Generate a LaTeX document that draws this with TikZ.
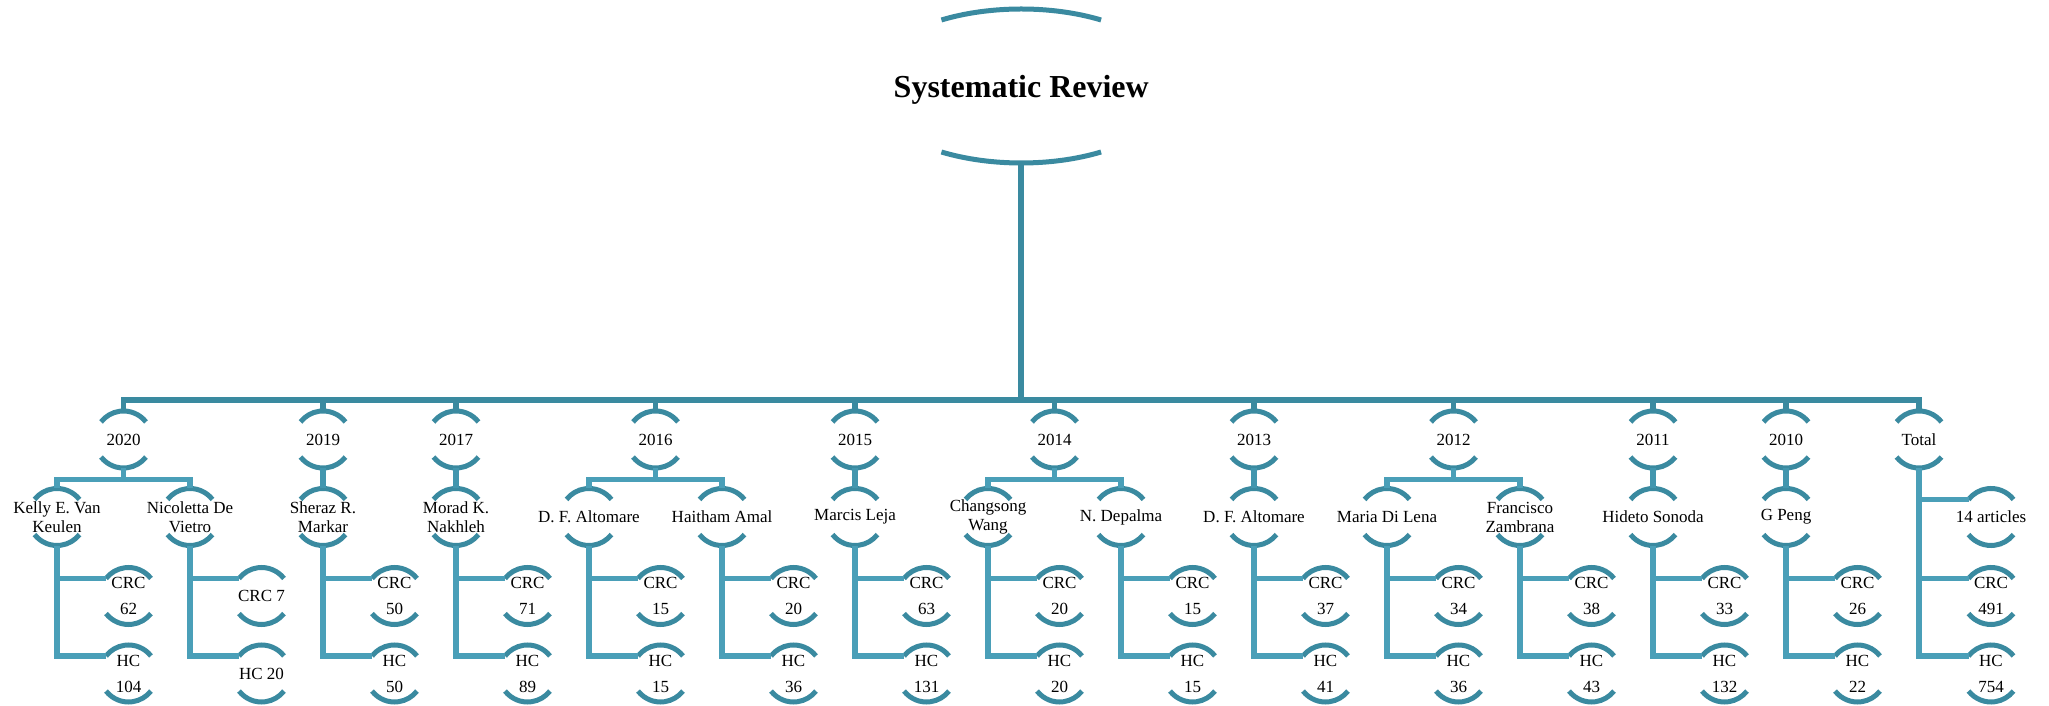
\documentclass[tikz,border=0pt]{standalone}
\usepackage{fontspec}
\setmainfont{Liberation Serif}
\usetikzlibrary{positioning}
\definecolor{darkteal}{RGB}{58,138,160}
\definecolor{midteal}{RGB}{66,150,174}
\definecolor{lightteal}{RGB}{74,159,184}

\tikzset{
  arcline/.style={draw=darkteal, line width=2.5pt},
  mainline/.style={draw=darkteal, line width=2.8pt},
  yearline/.style={draw=midteal, line width=2.6pt},
  subline/.style={draw=lightteal, line width=2.6pt},
  arcnode/.style={inner sep=0pt, minimum width=22pt, minimum height=28.5pt, align=center,
    font=\fontsize{8.5}{9.5}\selectfont},
  leaf/.style={arcnode, font=\fontsize{8.5}{13}\selectfont},
}

\begin{document}
\begin{tikzpicture}[x=0.5pt, y=0.5pt]
  \useasboundingbox (0,0) rectangle (2049,706);

  % ===== root =====
  \node[inner sep=0pt, minimum width=80pt, minimum height=77pt, text depth=0pt,
    font=\fontsize{16}{19}\selectfont\bfseries] (root) at (1021.25,620) {Systematic Review};
  \draw[arcline] ([shift={(59:155 and 77)}]root.center) arc[start angle=59, end angle=121, x radius=155, y radius=77];
  \draw[arcline] ([shift={(239:155 and 77)}]root.center) arc[start angle=239, end angle=301, x radius=155, y radius=77];

  % ===== years =====
  \node[arcnode] (y20) at (123.5,266.5) {2020};
  \node[arcnode] (y19) at (323,266.5) {2019};
  \node[arcnode] (y17) at (456,266.5) {2017};
  \node[arcnode] (y16) at (655.5,266.5) {2016};
  \node[arcnode] (y15) at (855,266.5) {2015};
  \node[arcnode] (y14) at (1054.5,266.5) {2014};
  \node[arcnode] (y13) at (1254,266.5) {2013};
  \node[arcnode] (y12) at (1453.5,266.5) {2012};
  \node[arcnode] (y11) at (1653,266.5) {2011};
  \node[arcnode] (y10) at (1786,266.5) {2010};
  \node[arcnode] (ytot) at (1919,266.5) {Total};

  % ===== authors =====
  \node[arcnode] (keulen) at (57,189) {Kelly E. Van\\Keulen};
  \node[arcnode] (vietro) at (190,189) {Nicoletta De\\Vietro};
  \node[arcnode] (markar) at (323,189) {Sheraz R.\\Markar};
  \node[arcnode] (nakhleh) at (456,189) {Morad K.\\Nakhleh};
  \node[arcnode] (altomare) at (589,189) {D. F. Altomare};
  \node[arcnode] (amal) at (722,189) {Haitham Amal};
  \node[arcnode] (leja) at (855,189) {Marcis Leja};
  \node[arcnode] (wang) at (988,189) {Changsong\\Wang};
  \node[arcnode] (depalma) at (1121,189) {N. Depalma};
  \node[arcnode] (altomareb) at (1254,189) {D. F. Altomare};
  \node[arcnode] (dilena) at (1387,189) {Maria Di Lena};
  \node[arcnode] (zambrana) at (1520,189) {Francisco\\Zambrana};
  \node[arcnode] (sonoda) at (1653,189) {Hideto Sonoda};
  \node[arcnode] (peng) at (1786,189) {G Peng};

  % totals
  \node[leaf] (articles) at (1991,189) {14 articles};
  \node[leaf] (totcrc) at (1991,110) {CRC\\491};
  \node[leaf] (tothc) at (1991,32.5) {HC\\754};

  % arcs above and below
  \foreach \n in {y20,y19,y17,y16,y15,y14,y13,y12,y11,y10,ytot,articles,totcrc,tothc}{
    \draw[arcline] ([shift={(38:28.5)}]\n.center) arc[start angle=38, end angle=142, radius=28.5];
    \draw[arcline] ([shift={(218:28.5)}]\n.center) arc[start angle=218, end angle=322, radius=28.5];
    \coordinate (\n-in) at ([shift={(142:28.5)}]\n.center);
  }

  % ===== CRC / HC counts =====
  \foreach \a/\c/\h in {keulen/{CRC\\62}/{HC\\104}, vietro/{CRC 7}/{HC 20},
      markar/{CRC\\50}/{HC\\50}, nakhleh/{CRC\\71}/{HC\\89},
      altomare/{CRC\\15}/{HC\\15}, amal/{CRC\\20}/{HC\\36},
      leja/{CRC\\63}/{HC\\131}, wang/{CRC\\20}/{HC\\20},
      depalma/{CRC\\15}/{HC\\15}, altomareb/{CRC\\37}/{HC\\41},
      dilena/{CRC\\34}/{HC\\36}, zambrana/{CRC\\38}/{HC\\43},
      sonoda/{CRC\\33}/{HC\\132}, peng/{CRC\\26}/{HC\\22}}{
    \node[leaf] (\a-crc) at ([shift={(71.5,-79)}]\a.center) {\c};
    \node[leaf] (\a-hc) at ([shift={(71.5,-156.5)}]\a.center) {\h};
    \foreach \n in {\a,\a-crc,\a-hc}{
      \draw[arcline] ([shift={(38:28.5)}]\n.center) arc[start angle=38, end angle=142, radius=28.5];
      \draw[arcline] ([shift={(218:28.5)}]\n.center) arc[start angle=218, end angle=322, radius=28.5];
    }
    \draw[subline] (\a.south) |- ([shift={(142:28.5)}]\a-crc.center);
    \draw[subline] (\a.south) |- ([shift={(142:28.5)}]\a-hc.center);
  }

  % ===== connectors =====
  \coordinate (bus) at (1021.25,306);
  \draw[mainline] (root.south) -- (bus);
  \foreach \y in {y20,y19,y17,y16,y15,y14,y13,y12,y11,y10,ytot}{
    \draw[mainline] (bus) -| (\y.north);
  }

  \draw[subline] (y20.south) -- ++(0,-11) -| (keulen.north);
  \draw[subline] (y20.south) -- ++(0,-11) -| (vietro.north);
  \draw[yearline] (y19.south) -- (markar.north);
  \draw[yearline] (y17.south) -- (nakhleh.north);
  \draw[subline] (y16.south) -- ++(0,-11) -| (altomare.north);
  \draw[subline] (y16.south) -- ++(0,-11) -| (amal.north);
  \draw[yearline] (y15.south) -- (leja.north);
  \draw[subline] (y14.south) -- ++(0,-11) -| (wang.north);
  \draw[subline] (y14.south) -- ++(0,-11) -| (depalma.north);
  \draw[yearline] (y13.south) -- (altomareb.north);
  \draw[subline] (y12.south) -- ++(0,-11) -| (dilena.north);
  \draw[subline] (y12.south) -- ++(0,-11) -| (zambrana.north);
  \draw[yearline] (y11.south) -- (sonoda.north);
  \draw[yearline] (y10.south) -- (peng.north);

  \draw[subline] (ytot.south) |- (articles-in);
  \draw[subline] (ytot.south) |- (totcrc-in);
  \draw[subline] (ytot.south) |- (tothc-in);
\end{tikzpicture}
\end{document}
